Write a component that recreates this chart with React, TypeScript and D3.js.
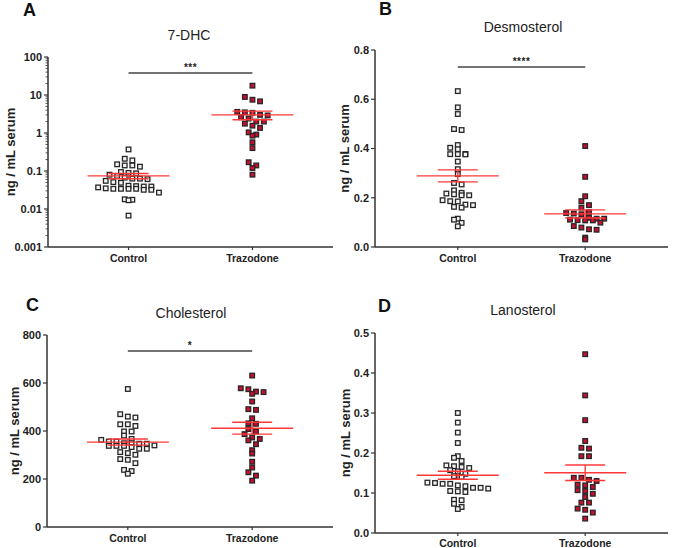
import React from "react";
import * as d3 from "d3";

const categories = ["Control", "Trazodone"];

const dhcControl = [0.37, 0.21, 0.19, 0.14, 0.14, 0.15, 0.13, 0.094, 0.08, 0.074, 0.089, 0.087, 0.063, 0.063, 0.067, 0.061, 0.049, 0.055, 0.034, 0.041, 0.034, 0.034, 0.039, 0.032, 0.034, 0.04, 0.032, 0.035, 0.051, 0.037, 0.039, 0.027, 0.018, 0.0175, 0.017, 0.0067];
const dhcTrazodone = [17.6, 6.8, 7.5, 8.9, 3.4, 3.0, 3.6, 3.5, 2.9, 2.4, 2.6, 2.0, 2.0, 1.56, 1.76, 1.36, 1.04, 0.85, 0.91, 0.57, 0.4, 0.17, 0.14, 0.12, 0.08];

const desmoControl = [0.633, 0.567, 0.54, 0.479, 0.475, 0.403, 0.414, 0.397, 0.377, 0.377, 0.376, 0.378, 0.347, 0.316, 0.296, 0.26, 0.254, 0.22, 0.23, 0.21, 0.217, 0.21, 0.214, 0.186, 0.19, 0.185, 0.172, 0.163, 0.17, 0.16, 0.111, 0.115, 0.098, 0.084];
const desmoTrazodone = [0.41, 0.285, 0.206, 0.186, 0.17, 0.16, 0.138, 0.142, 0.136, 0.133, 0.108, 0.115, 0.108, 0.109, 0.119, 0.115, 0.111, 0.099, 0.072, 0.079, 0.07, 0.085, 0.031, 0.038];

const cholControl = [575, 456, 470, 460, 428, 421, 428, 398, 398, 381, 356, 367, 347, 349, 349, 338, 356, 363, 347, 338, 338, 340, 326, 326, 333, 308, 301, 312, 280, 283, 266, 238, 233, 222];
const cholTrazodone = [631, 564, 578, 562, 574, 555, 523, 488, 491, 453, 430, 432, 398, 408, 387, 367, 373, 361, 345, 320, 306, 272, 248, 228, 214, 193];

const lanoControl = [0.3, 0.276, 0.251, 0.225, 0.192, 0.188, 0.18, 0.1625, 0.169, 0.167, 0.165, 0.157, 0.148, 0.154, 0.142, 0.14, 0.113, 0.117, 0.123, 0.111, 0.125, 0.126, 0.119, 0.123, 0.113, 0.1025, 0.105, 0.104, 0.083, 0.082, 0.073, 0.065, 0.06];
const lanoTrazodone = [0.447, 0.344, 0.282, 0.23, 0.211, 0.213, 0.192, 0.192, 0.138, 0.138, 0.13, 0.133, 0.119, 0.115, 0.121, 0.105, 0.098, 0.107, 0.076, 0.076, 0.09, 0.058, 0.061, 0.051, 0.036];

const dhcTicks = [0.001, 0.01, 0.1, 1, 10, 100];
const desmoTicks = [0, 0.2, 0.4, 0.6, 0.8];
const cholTicks = [0, 200, 400, 600, 800];
const lanoTicks = [0, 0.1, 0.2, 0.3, 0.4, 0.5];

const FONT = "'Liberation Sans', Arial, sans-serif";
const AXIS = "#333";
const RED = "#ff3838";

type PanelProps = {
  letter: string;
  title: string;
  groups: number[][];
  ticks: number[];
  log?: boolean;
  fmt: (v: number) => string;
  x0: number;
  x1: number;
  yTop: number;
  yBot: number;
  letterX: number;
  letterY: number;
  titleX: number;
  titleY: number;
  sig?: string;
  sigY?: number;
  catY: number;
  yLabelX: number;
};

function swarm(values: number[], y: (v: number) => number, cx: number, yTop: number) {
  const step = 7.6;
  const binH = 6.5;
  const pts = values.map((v) => ({ v, y: y(v) })).sort((a, b) => a.y - b.y);
  const bins = d3.group(pts, (p) => Math.floor((p.y - yTop) / binH));
  const out: { x: number; y: number }[] = [];
  for (const [, arr] of bins) {
    const n = arr.length;
    arr.forEach((p, i) => out.push({ x: cx + (i - (n - 1) / 2) * step, y: p.y }));
  }
  return out;
}

function Panel(p: PanelProps) {
  const y = p.log
    ? d3.scaleLog().domain([p.ticks[0], p.ticks[p.ticks.length - 1]]).range([p.yBot, p.yTop])
    : d3.scaleLinear().domain([p.ticks[0], p.ticks[p.ticks.length - 1]]).range([p.yBot, p.yTop]);
  const x = d3.scalePoint<string>().domain(categories).range([p.x0, p.x1]).padding(0.65);
  const minor: number[] = [];
  if (p.log) {
    for (let i = 0; i < p.ticks.length - 1; i++) {
      for (let k = 2; k <= 9; k++) minor.push(p.ticks[i] * k);
    }
  }
  const fills = ["#f4f4f4", "#c8102e"];
  return (
    <g fontFamily={FONT}>
      <text x={p.letterX} y={p.letterY} fontSize={18} fontWeight="bold" fill="#111">{p.letter}</text>
      <text x={p.titleX} y={p.titleY} fontSize={14} textAnchor="middle" fill="#222" dy="0.35em">{p.title}</text>
      <text
        transform={`translate(${p.yLabelX},${(p.yTop + p.yBot) / 2}) rotate(-90)`}
        textAnchor="middle"
        fontSize={13}
        fontWeight="bold"
        fill="#222"
        dy="0.35em"
      >ng / mL serum</text>
      <line x1={p.x0} x2={p.x0} y1={p.yTop} y2={p.yBot} stroke={AXIS} strokeWidth={1.5} />
      <line x1={p.x0} x2={p.x1} y1={p.yBot} y2={p.yBot} stroke={AXIS} strokeWidth={1.5} />
      {p.ticks.map((t) => (
        <g key={t}>
          <line x1={p.x0 - 4} x2={p.x0} y1={y(t)} y2={y(t)} stroke={AXIS} strokeWidth={1.2} />
          <text x={p.x0 - 6} y={y(t)} dy="0.35em" textAnchor="end" fontSize={11} fontWeight="bold" fill="#222">{p.fmt(t)}</text>
        </g>
      ))}
      {minor.map((t) => (
        <line key={t} x1={p.x0 - 2.5} x2={p.x0} y1={y(t)} y2={y(t)} stroke={AXIS} strokeWidth={0.8} />
      ))}
      {categories.map((c) => (
        <g key={c}>
          <line x1={x(c)} x2={x(c)} y1={p.yBot} y2={p.yBot + 3} stroke={AXIS} strokeWidth={1.2} />
          <text x={x(c)} y={p.catY} textAnchor="middle" fontSize={10.5} fontWeight="bold" fill="#222">{c}</text>
        </g>
      ))}
      {p.sig && (
        <g>
          <line x1={x(categories[0])} x2={x(categories[1])} y1={p.sigY} y2={p.sigY} stroke="#444" strokeWidth={1.3} />
          <text x={((x(categories[0]) as number) + (x(categories[1]) as number)) / 2} y={(p.sigY as number) - 2} textAnchor="middle" fontSize={10} fontWeight="bold" fill="#222" letterSpacing={0.5}>{p.sig}</text>
        </g>
      )}
      {p.groups.map((vals, gi) => {
        const cx = x(categories[gi]) as number;
        const pts = swarm(vals, (v) => y(v), cx, p.yTop);
        const s = 4.6;
        return (
          <g key={gi}>
            {pts.map((q, i) => (
              <rect key={i} x={q.x - s / 2} y={q.y - s / 2} width={s} height={s} fill={fills[gi]} stroke="#262626" strokeWidth={1.3} />
            ))}
          </g>
        );
      })}
      {p.groups.map((vals, gi) => {
        const cx = x(categories[gi]) as number;
        const m = d3.mean(vals) as number;
        const sem = (d3.deviation(vals) as number) / Math.sqrt(vals.length);
        return (
          <g key={"m" + gi} stroke={RED} strokeWidth={1.4}>
            <line x1={cx - 41} x2={cx + 41} y1={y(m)} y2={y(m)} />
            <line x1={cx - 20} x2={cx + 20} y1={y(m + sem)} y2={y(m + sem)} />
            <line x1={cx - 20} x2={cx + 20} y1={y(m - sem)} y2={y(m - sem)} />
            <line x1={cx} x2={cx} y1={y(m + sem)} y2={y(m - sem)} />
          </g>
        );
      })}
    </g>
  );
}

const fmtLog = (v: number) => String(v);
const fmt1 = d3.format(".1f");
const fmt0 = d3.format("d");

export default function App() {
  return (
    <svg width={675} height={548} style={{ position: "absolute", left: 0, top: 0, background: "#fff" }}>
      <rect width={675} height={548} fill="#fff" />
      <Panel letter="A" title="7-DHC" groups={[dhcControl, dhcTrazodone]} ticks={dhcTicks} log fmt={fmtLog}
        x0={48} x1={333} yTop={57} yBot={247} letterX={23} letterY={16} titleX={189} titleY={35}
        sig="***" sigY={73} catY={262} yLabelX={10} />
      <Panel letter="B" title="Desmosterol" groups={[desmoControl, desmoTrazodone]} ticks={desmoTicks} fmt={fmt1}
        x0={375} x1={668} yTop={50} yBot={247} letterX={379} letterY={15} titleX={523} titleY={27}
        sig="****" sigY={67} catY={262} yLabelX={344} />
      <Panel letter="C" title="Cholesterol" groups={[cholControl, cholTrazodone]} ticks={cholTicks} fmt={fmt0}
        x0={47} x1={333} yTop={335} yBot={527} letterX={26} letterY={311} titleX={191} titleY={313}
        sig="*" sigY={351} catY={542} yLabelX={14} />
      <Panel letter="D" title="Lanosterol" groups={[lanoControl, lanoTrazodone]} ticks={lanoTicks} fmt={fmt1}
        x0={375} x1={668} yTop={333} yBot={533} letterX={378} letterY={312} titleX={523} titleY={310}
        catY={547} yLabelX={345} />
    </svg>
  );
}
